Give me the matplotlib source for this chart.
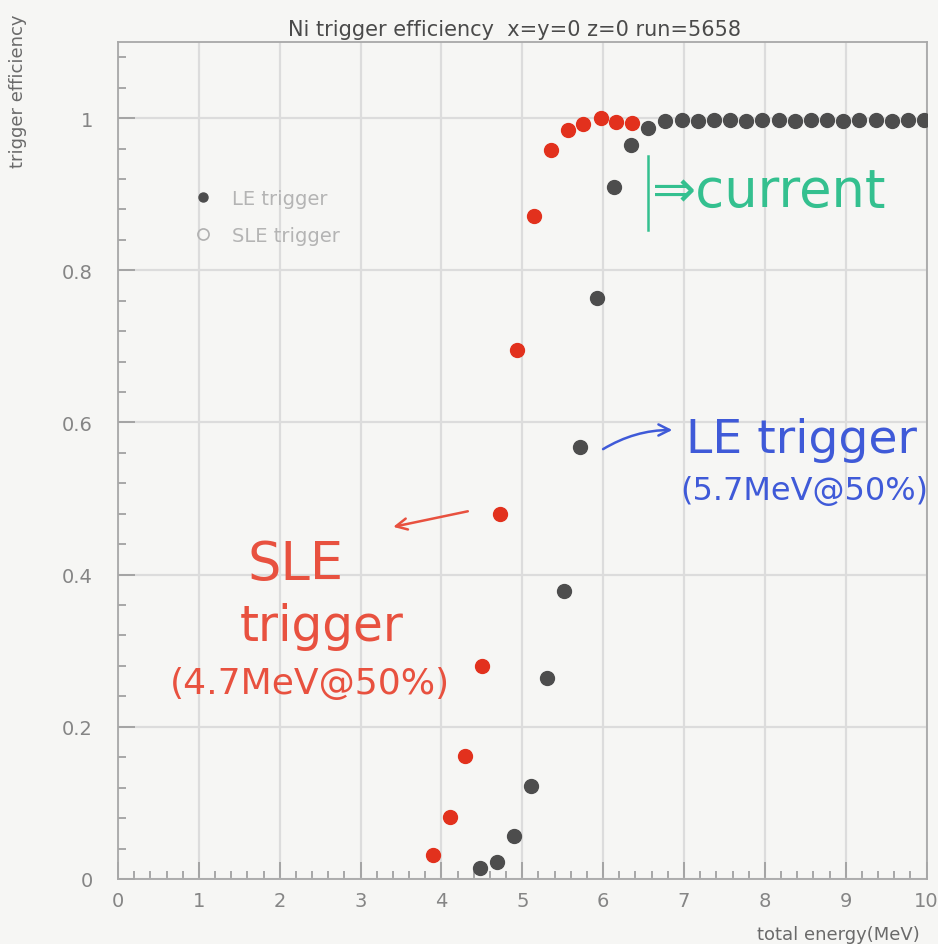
import numpy as np
import matplotlib.pyplot as plt
from matplotlib.lines import Line2D
from matplotlib.ticker import MultipleLocator

# LE trigger efficiency vs total energy
le_energy = [4.48, 4.69, 4.90, 5.11, 5.31, 5.52, 5.72, 5.93, 6.14, 6.35, 6.56,
             6.77, 6.97, 7.17, 7.37, 7.57, 7.77, 7.97, 8.17, 8.37, 8.57, 8.77,
             8.97, 9.17, 9.37, 9.57, 9.77, 9.97]
le_eff = [0.014, 0.022, 0.057, 0.122, 0.264, 0.378, 0.568, 0.764, 0.910, 0.964, 0.987,
          0.996, 0.997, 0.996, 0.997, 0.997, 0.996, 0.997, 0.997, 0.996, 0.997, 0.997,
          0.996, 0.997, 0.997, 0.996, 0.997, 0.997]

# SLE trigger efficiency vs total energy
sle_energy = [3.90, 4.10, 4.29, 4.50, 4.73, 4.93, 5.15, 5.35, 5.56, 5.75, 5.97, 6.16, 6.36]
sle_eff = [0.032, 0.082, 0.162, 0.280, 0.480, 0.695, 0.871, 0.958, 0.985, 0.992, 1.000, 0.995, 0.993]

x_ticks = np.arange(0, 11, 1)
y_ticks = [0, 0.2, 0.4, 0.6, 0.8, 1.0]
y_ticklabels = ["0", "0.2", "0.4", "0.6", "0.8", "1"]

bg = "#f6f6f4"
grey = "#858585"

fig = plt.figure(figsize=(9.38, 9.45), dpi=100, facecolor=bg)
ax = fig.add_axes([0.1258, 0.0688, 0.862, 0.8857])
ax.set_facecolor(bg)

ax.set_xlim(0, 10)
ax.set_ylim(0, 1.1)
ax.set_xticks(x_ticks)
ax.set_yticks(y_ticks)
ax.set_yticklabels(y_ticklabels)
ax.xaxis.set_minor_locator(MultipleLocator(0.2))
ax.yaxis.set_minor_locator(MultipleLocator(0.04))
ax.tick_params(which="both", direction="in", colors="#9a9a9a", labelcolor=grey,
               labelsize=14, width=1.2)
ax.tick_params(which="major", length=12, pad=9)
ax.tick_params(which="minor", length=6)
ax.tick_params(axis="y", which="major", pad=18)
ax.grid(True, which="major", color="#dcdcdc", lw=1.6)
ax.set_axisbelow(True)
for s in ax.spines.values():
    s.set_color("#a8a8a8")
    s.set_linewidth(1.3)

ax.plot(sle_energy, sle_eff, "o", ms=10, color="#e2311d", mec="#e2311d", zorder=3)
ax.plot(le_energy, le_eff, "o", ms=10, color="#4d4d4d", mec="#4d4d4d", zorder=4)

handles = [Line2D([], [], ls="", marker="o", ms=6.5, color="#4d4d4d"),
           Line2D([], [], ls="", marker="o", ms=8, mfc="none", mec="#b0b0b0", mew=1.2)]
ax.legend(handles, ["LE trigger", "SLE trigger"], loc="upper left",
          bbox_to_anchor=(0.0593, 0.845), frameon=False, fontsize=14,
          labelcolor="#b4b4b4", handletextpad=0.5, labelspacing=0.9)

fig.text(0.548, 0.968, "Ni trigger efficiency  x=y=0 z=0 run=5658", ha="center",
         va="center", fontsize=15, color="#4a4a4a", fontweight="medium")
fig.text(0.019, 0.985, "trigger efficiency", rotation=90, ha="center", va="top",
         fontsize=13, color="#6a6a6a")
fig.text(0.981, 0.011, "total energy(MeV)", ha="right", va="center",
         fontsize=13, color="#6a6a6a")

# hand-written notes on top of the plot
red = "#e8513f"
blue = "#3f5ad8"
green = "#34c08f"
ax.text(1.60, 0.414, "SLE", color=red, fontsize=38, va="center")
ax.text(1.51, 0.332, "trigger", color=red, fontsize=35, va="center")
ax.text(0.64, 0.258, "(4.7MeV@50%)", color=red, fontsize=26, va="center")
ax.annotate("", xy=(3.37, 0.462), xytext=(4.36, 0.484),
            arrowprops=dict(arrowstyle="->,head_length=0.8,head_width=0.4",
                            color=red, lw=1.8))

ax.annotate("", xy=(6.89, 0.590), xytext=(5.97, 0.563),
            arrowprops=dict(arrowstyle="->,head_length=0.8,head_width=0.4",
                            color=blue, lw=1.8, connectionstyle="arc3,rad=-0.15"))
ax.text(7.02, 0.578, "LE trigger", color=blue, fontsize=34, va="center", clip_on=False)
ax.text(6.95, 0.510, "(5.7MeV@50%)", color=blue, fontsize=23, va="center", clip_on=False)

ax.plot([6.56, 6.56], [0.853, 0.950], color=green, lw=1.8)
ax.text(6.6, 0.903, "⇒current", color=green, fontsize=38, va="center", clip_on=False)

fig.savefig("out.png", dpi=100, facecolor=bg)
